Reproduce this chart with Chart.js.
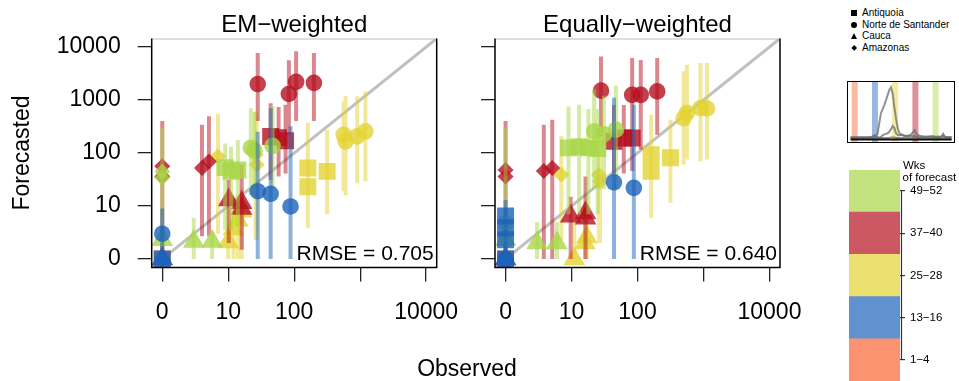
<!DOCTYPE html>
<html><head><meta charset="utf-8">
<script src="https://cdn.jsdelivr.net/npm/chart.js@4.4.1/dist/chart.umd.min.js"></script>
<style>
body{margin:0;background:#fff;width:959px;height:381px;overflow:hidden;position:relative;font-family:"Liberation Sans",Arial,sans-serif;}
canvas{position:absolute;}
.t{position:absolute;color:#000;white-space:nowrap;}
.leg{position:absolute;font-size:10px;line-height:12px;color:#000;white-space:nowrap;}
.sym{position:absolute;background:#000;}
</style></head><body>
<canvas id="pL" style="left:0;top:0" width="475" height="381"></canvas>
<canvas id="pR" style="left:450px;top:0" width="355" height="381"></canvas>
<canvas id="inset" style="left:847px;top:81px" width="108" height="62"></canvas>
<canvas id="cbar" style="left:840px;top:160px" width="119" height="221"></canvas>
<div class="t" id="obs" style="left:467px;top:368px;font-size:23px;transform:translate(-50%,-50%)">Observed</div>
<div id="legend"></div>
<script>
// ---------- categories / labels ----------
const departments = ['Antiquoia', 'Norte de Santander', 'Cauca', 'Amazonas'];
const weekGroupLabels = ['1−4', '13−16', '25−28', '37−40', '49−52'];
const tickValues = [0, 1, 2, 3, 4];
const yTickLabels = ['0', '10', '100', '1000', '10000'];
const xTickLabels = ['0', '10', '100', '', '10000'];
const panelTitles = ['EM−weighted', 'Equally−weighted'];
const rmseTexts = ['RMSE = 0.705', 'RMSE = 0.640'];

// ---------- EM-weighted: [department index, observed, forecast, lower, upper] ----------
const emWk1_4 = [[0,0,0,0,1],[1,0,0,0,1],[2,0,0,0,1],[3,0,0,0,1]];
const emWk13_16 = [[1,27,18,0,250],[1,43,16,0,700],[1,87,8.8,0,320],[1,0,2,0,8],[0,0,0,0,2],[2,0,0,0,1],[3,0,0,0,1]];
const emWk25_28 = [[1,560,220,18,940],[1,600,165,15,1170],[1,900,205,26,1170],[1,1200,255,28,1450],
  [0,160,51,3,370],[0,160,22,2.9,150],[0,315,44,6,275],
  [3,6,86,2,550],[3,25,92,1.3,600],[3,26,59,1.3,500],
  [2,9,1.1,0,8],[2,11,2.7,0,10],[2,13,4.4,0,15],[2,15,7,0,20]];
const emWk37_40 = [[1,27,2000,400,7700],[1,82,1300,220,5600],[1,106,2200,400,8300],[1,198,2100,400,7700],
  [0,43,203,30,870],[0,57,194,35,740],[0,73,170,40,810],
  [3,3,51,1.7,340],[3,4.1,68,1.7,490],[3,0,55,0,400],[3,0,35,0,400],
  [2,9.2,12,1,30],[2,15,10.5,0.5,60],[2,15,8,0.5,40]];
const emWk49_52 = [[0,8,52,2.5,150],[0,10,44,2.5,130],[0,13,47,3,175],
  [1,21,125,15,700],[1,24,110,15,600],[1,46,135,20,760],
  [2,2,1.15,0,5],[2,4.7,1.15,0,2.3],[2,0,1.3,0,3],
  [3,0,44,0.5,300],[3,0,33,0.5,300]];

// ---------- Equally-weighted ----------
const ewWk1_4 = [[0,0,0,0,1],[1,0,0,0,1],[2,0,0,0,1],[3,0,0,0,1]];
const ewWk13_16 = [[1,43,27,0,1100],[1,87,21,0,810],[1,0,0,0,2],
  [0,0,5.5,0,12],[0,0,2.9,0,8],[0,0,1.3,0,5],[0,0,0,0,2],[2,0,0,0,1],[3,0,0,0,1]];
const ewWk25_28 = [[1,560,570,74,4600],[1,500,450,60,3500],[1,900,700,69,5000],[1,1130,690,74,5000],
  [0,160,92,7,530],[0,160,44,5,300],[0,315,80,10.5,425],
  [3,6,38,1.3,205],[3,25,38,1,200],[3,26,28,1,150],
  [2,10,0,0,4],[2,15,1,0,8],[2,16,1.6,0,10]];
const ewWk37_40 = [[1,27,1500,205,6600],[1,82,1250,115,6200],[1,111,1250,115,5700],[1,198,1450,220,6200],
  [0,43,165,40,800],[0,61,190,40,800],[0,82,190,45,800],
  [3,2.8,45,0,340],[3,4.1,51,0,425],[3,0,47,0,400],[3,0,35,0,400],
  [2,8.7,5.4,0,14],[2,15.3,6.4,0,35],[2,15.3,4.9,0,25]];
const ewWk49_52 = [[0,8,124,6,750],[0,12,130,6,815],[0,17,124,6,675],[0,24,120,6,675],
  [1,21,255,20,1600],[1,30,225,20,1200],[1,46,275,20,1850],
  [2,2,1,0,4],[2,5,1,0,4],[2,0,1.3,0,3],
  [3,0,4.5,0,300],[3,0,3.1,0,300],[3,0,1.7,0,300]];

// ---------- inset epidemic curves ----------
const insetWeeks = [0,3,6,9,12,14,16,17,18,19,20,21,22,23,24,25,26,27,28,29,30,32,34,36,37,38,39,40,42,44,46,48,50,52,54,55,56,58,60];
const curveA = [5,5,5,5,5,6,11,30,50,58,66,75,85,95,100,88,62,40,22,12,9,7,7,7,6,8,6,5,6,5,6,5,5,6,5,11,5,5,5];
const curveB = [3,3,3,3,3,3,4,4,5,8,10,11,12,15,20,26,22,12,9,8,10,8,7,10,14,18,12,9,6,6,5,7,6,4,6,8,5,4,4];
const curveC = [2,2,2,2,4,8,4,3,3,3,3,3,3,3,4,4,4,3,3,3,3,3,3,3,4,5,4,3,3,3,2,3,3,3,2,3,3,2,2];
const curveD = [0,0,0,0,0,0,0,0,0,0,0,0,0,0,0,0,0,0,0,0,0,0,0,0,0,0,0,0,0,0,0,0,0,0,0,0,0,0,0];
const bandWeeks = [2.5, 14.5, 26.5, 38.5, 50.5];

// ---------- styles ----------
const baseRGB = ['251,101,51', '28,99,188', '228,211,51', '181,16,31', '169,215,72'];
const legendColors = ['#fc9370', '#6092d0', '#ece070', '#cb5862', '#c3e37f'];
const bandColors = ['rgba(252,147,112,0.65)', 'rgba(96,146,208,0.65)', 'rgba(236,224,112,0.65)', 'rgba(203,88,98,0.65)', 'rgba(195,227,127,0.65)'];
const shapeStyles = ['rect', 'circle', 'triangle', 'rectRot'];
const shapeRadii = [12, 8.3, 12.5, 8];
const drawOrder = [0, 2, 3, 4, 1];
const FONT = '"Liberation Sans", Arial, sans-serif';
Chart.defaults.font.family = FONT;
Chart.defaults.color = '#000';

const toU = v => Math.log10(v + 1);
const AX_MIN = -0.16, AX_MAX = 4.16;

function buildDatasets(groups) {
  const ds = [];
  ds.push({data: [{x: AX_MIN, y: AX_MIN}, {x: AX_MAX, y: AX_MAX}], showLine: true,
    borderColor: 'rgba(185,185,185,0.9)', borderWidth: 3, pointRadius: 0});
  drawOrder.forEach(g => {
    const rows = groups[g];
    const bars = [];
    rows.forEach(r => { const x = toU(r[1]); bars.push({x, y: toU(r[3])}, {x, y: toU(r[4])}, {x, y: null}); });
    ds.push({data: bars, showLine: true, spanGaps: false, borderColor: `rgba(${baseRGB[g]},0.5)`,
      borderWidth: 4, borderCapStyle: 'butt', pointRadius: 0});
    [0, 1, 2, 3].forEach(d => {
      const pts = rows.filter(r => r[0] === d).map(r => ({x: toU(r[1]), y: toU(r[2])}));
      if (pts.length) ds.push({data: pts, pointStyle: shapeStyles[d], pointRadius: shapeRadii[d],
        backgroundColor: `rgba(${baseRGB[g]},0.8)`, pointBorderWidth: 0, borderWidth: 0, showLine: false});
    });
  });
  ds.forEach((d, i) => { d.order = -i; });
  return ds;
}

const panelDecor = {
  id: 'panelDecor',
  afterDatasetsDraw(chart, args, opts) {
    const {ctx, chartArea: a} = chart;
    ctx.save();
    ctx.strokeStyle = '#bdbdbd'; ctx.lineWidth = 1;
    ctx.beginPath(); ctx.moveTo(a.left, a.top + 0.5); ctx.lineTo(a.right, a.top + 0.5); ctx.stroke();
    ctx.strokeStyle = '#000'; ctx.lineWidth = 1.5;
    ctx.beginPath(); ctx.moveTo(a.left, a.top); ctx.lineTo(a.left, a.bottom); ctx.lineTo(a.right, a.bottom); ctx.lineTo(a.right, a.top); ctx.stroke();
    ctx.fillStyle = '#000';
    ctx.font = '21px ' + FONT; ctx.textAlign = 'right'; ctx.textBaseline = 'alphabetic';
    ctx.fillText(opts.rmse, a.right - 3, a.bottom - 7.5);
    ctx.font = '24px ' + FONT; ctx.textAlign = 'center'; ctx.textBaseline = 'middle';
    ctx.fillText(opts.title, (a.left + a.right) / 2, 25);
    ctx.restore();
  }
};

function makePanel(id, groups, idx, yAxisWidth, rightPad, showY) {
  new Chart(document.getElementById(id), {
    type: 'scatter',
    data: {datasets: buildDatasets(groups)},
    plugins: [panelDecor],
    options: {
      responsive: false, animation: false, events: [],
      layout: {padding: {top: 38.5, right: rightPad, left: 0, bottom: 0}},
      plugins: {legend: {display: false}, tooltip: {enabled: false}, title: {display: false},
        panelDecor: {title: panelTitles[idx], rmse: rmseTexts[idx]}},
      scales: {
        x: {type: 'linear', min: AX_MIN, max: AX_MAX,
          afterBuildTicks: s => { s.ticks = tickValues.map(v => ({value: v})); },
          ticks: {autoSkip: false, maxRotation: 0, padding: 17, font: {size: 23}, color: '#000',
            callback: (v, i) => xTickLabels[i]},
          grid: {drawOnChartArea: false, tickLength: 14, color: '#222', lineWidth: 1.3},
          border: {display: false},
          afterFit: s => { s.height = 381 - 267.5; s.paddingLeft = 0; s.paddingRight = 0; }},
        y: {type: 'linear', min: AX_MIN, max: AX_MAX,
          afterBuildTicks: s => { s.ticks = tickValues.map(v => ({value: v})); },
          ticks: {autoSkip: false, padding: 17, font: {size: 23}, color: '#000', display: showY,
            callback: (v, i) => yTickLabels[i]},
          grid: {drawOnChartArea: false, tickLength: 14, color: '#222', lineWidth: 1.3},
          border: {display: false},
          title: {display: showY, text: 'Forecasted', font: {size: 23}, color: '#000', padding: {top: 9, bottom: 0}},
          afterFit: s => { s.width = yAxisWidth; s.paddingTop = 0; s.paddingBottom = 0; }}
      }
    }
  });
}

makePanel('pL', [emWk1_4, emWk13_16, emWk25_28, emWk37_40, emWk49_52], 0, 151.7, 475 - 436.7, true);
makePanel('pR', [ewWk1_4, ewWk13_16, ewWk25_28, ewWk37_40, ewWk49_52], 1, 45, 355 - 330, false);

// ---------- inset ----------
const insetBox = {
  id: 'insetBox',
  afterDraw(chart) {
    const {ctx, chartArea: a} = chart;
    ctx.save(); ctx.strokeStyle = '#000'; ctx.lineWidth = 1;
    ctx.strokeRect(a.left + 0.5, a.top + 0.5, a.width - 1, a.height - 1);
    ctx.restore();
  }
};
const insetDatasets = [];
bandWeeks.forEach((w, i) => insetDatasets.push({data: [{x: w, y: -10}, {x: w, y: 120}], showLine: true,
  borderColor: bandColors[i], borderWidth: 6, borderCapStyle: 'butt', pointRadius: 0}));
[curveA, curveB, curveC].forEach(c => insetDatasets.push({data: insetWeeks.map((w, i) => ({x: w, y: c[i]})),
  showLine: true, borderColor: 'rgba(110,110,110,0.75)', borderWidth: 2, pointRadius: 0, tension: 0}));
insetDatasets.push({data: insetWeeks.map((w, i) => ({x: w, y: curveD[i]})), showLine: true,
  borderColor: '#111', borderWidth: 2, pointRadius: 0});
insetDatasets.forEach((d, i) => { d.order = -i; });
new Chart(document.getElementById('inset'), {
  type: 'scatter', data: {datasets: insetDatasets}, plugins: [insetBox],
  options: {responsive: false, animation: false, events: [], layout: {padding: 0},
    plugins: {legend: {display: false}, tooltip: {enabled: false}},
    scales: {x: {type: 'linear', min: -2.1, max: 62, display: false}, y: {type: 'linear', min: -6.5, max: 112, display: false}}}
});

// ---------- colour bar ----------
const cbarDecor = {
  id: 'cbarDecor',
  afterDraw(chart) {
    const {ctx, chartArea: a, scales: {y}} = chart;
    ctx.save();
    ctx.strokeStyle = '#333'; ctx.lineWidth = 1.2;
    ctx.beginPath(); ctx.moveTo(a.right + 1.5, y.getPixelForValue(4.5)); ctx.lineTo(a.right + 1.5, y.getPixelForValue(0.5)); ctx.stroke();
    ctx.fillStyle = '#000'; ctx.font = '11.5px ' + FONT; ctx.textAlign = 'left'; ctx.textBaseline = 'middle';
    ctx.fillText('Wks', 63, 6); ctx.fillText('of forecast', 62.5, 18);
    ctx.restore();
  }
};
new Chart(document.getElementById('cbar'), {
  type: 'bar',
  data: {labels: [''], datasets: weekGroupLabels.map((g, i) => ({label: g, data: [1], backgroundColor: legendColors[i],
    barPercentage: 1, categoryPercentage: 1, borderWidth: 0}))},
  plugins: [cbarDecor],
  options: {responsive: false, animation: false, events: [],
    layout: {padding: {left: 9, top: 10, right: 0, bottom: 0}},
    plugins: {legend: {display: false}, tooltip: {enabled: false}},
    scales: {x: {stacked: true, display: false},
      y: {stacked: true, min: 0, max: 5, position: 'right',
        afterBuildTicks: s => { s.ticks = [0.5, 1.5, 2.5, 3.5, 4.5].map(v => ({value: v})); },
        ticks: {autoSkip: false, padding: 5, font: {size: 11.5}, color: '#000', callback: (v, i) => weekGroupLabels[i]},
        grid: {drawOnChartArea: false, tickLength: 5, color: '#333', lineWidth: 1.2},
        border: {display: false},
        afterFit: s => { s.width = 59; s.paddingTop = 0; s.paddingBottom = 0; }}}}
});

// ---------- shape legend ----------
const legendEl = document.getElementById('legend');
const legendRowsY = [13.3, 25, 36.7, 48.3];
departments.forEach((d, i) => {
  const cy = legendRowsY[i];
  const s = document.createElement('div');
  s.className = 'sym';
  if (i === 0) { s.style.cssText = `left:851px;top:${cy - 3}px;width:6px;height:6px;`; }
  if (i === 1) { s.style.cssText = `left:851px;top:${cy - 3}px;width:6px;height:6px;border-radius:50%;`; }
  if (i === 2) { s.style.cssText = `left:850.5px;top:${cy - 3.5}px;width:0;height:0;background:transparent;border-left:3.5px solid transparent;border-right:3.5px solid transparent;border-bottom:6.5px solid #000;`; }
  if (i === 3) { s.style.cssText = `left:852px;top:${cy - 2.2}px;width:4.4px;height:4.4px;transform:rotate(45deg);`; }
  legendEl.appendChild(s);
  const t = document.createElement('div');
  t.className = 'leg'; t.textContent = d;
  t.style.left = '862px'; t.style.top = (cy - 6.5) + 'px';
  legendEl.appendChild(t);
});
</script>
</body></html>
